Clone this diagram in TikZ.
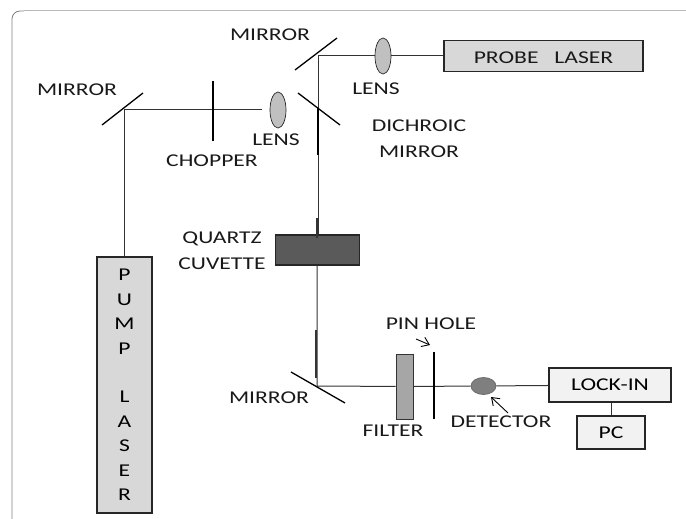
\documentclass[tikz,border=0pt]{standalone}
\usepackage{fontspec}
\setmainfont[FakeStretch=1.31]{Carlito}
\usetikzlibrary{arrows.meta,shapes.geometric}
\definecolor{lensgray}{RGB}{192,192,192}
\definecolor{lasergray}{RGB}{216,216,216}
\definecolor{cuvettegray}{RGB}{90,90,90}
\definecolor{filtergray}{RGB}{166,166,166}
\definecolor{detectorgray}{RGB}{127,127,127}
\definecolor{boxgray}{RGB}{242,242,242}
\tikzset{
  lbl/.style={font=\fontsize{18}{26}\selectfont,inner sep=0pt,align=center,text=black!90},
  devicebox/.style={draw=black!85,line width=1.3pt,inner sep=0pt,font=\fontsize{18}{26}\selectfont},
  lensshape/.style={ellipse,draw=black!85,fill=lensgray,line width=0.7pt,minimum width=16pt,minimum height=36pt,inner sep=0pt},
  mirrorline/.style={line width=1.3pt,black},
  beam/.style={line width=1pt,black!80},
  stopline/.style={line width=2.6pt,black},
  pointer/.style={-{Straight Barb[length=7pt,width=10pt]},line width=0.9pt,black}
}
\begin{document}
\begin{tikzpicture}[x=1pt,y=-1pt]
 \useasboundingbox (0,0) rectangle (686,519);
 % frame
 \draw[gray!55,line width=1pt] (686,11)--(24,11);
 \draw[gray,line width=0.8pt,rounded corners=8pt] (24,11)--(12,11)--(12,519);
 % corners of the beam
 \coordinate (pumpcorner) at (124,110);
 \coordinate (topcorner) at (318,56);
 \coordinate (lowcorner) at (317,386);
 \coordinate (lensgap) at (262,110);
 % parts
 \node[devicebox,fill=lasergray,minimum width=199pt,minimum height=31pt] (probelaser) at (543.5,56) {};
 \node[lbl] (probelabel) at (543.5,58) {PROBE\ \ \ LASER};
 \node[lensshape] (lensprobe) at (383,56) {};
 \node[lensshape] (lenspump) at (278,110) {};
 \node[devicebox,fill=lasergray,minimum width=55pt,minimum height=256pt,align=center,
   font=\fontsize{18}{24.4}\selectfont] (pumplaser) at (124.5,385)
   {P\\U\\M\\P\\[24.4pt]L\\A\\S\\E\\R};
 \node[devicebox,fill=cuvettegray,minimum width=84pt,minimum height=30pt] (cuvette) at (317.5,250) {};
 \node[draw=black!80,line width=0.9pt,fill=filtergray,minimum width=17pt,minimum height=65pt,inner sep=0pt] (filter) at (404.5,386.5) {};
 \node[ellipse,draw=black!60,line width=0.7pt,fill=detectorgray,minimum width=25pt,minimum height=17pt,inner sep=0pt] (detector) at (483.5,386) {};
 \node[devicebox,fill=boxgray,minimum width=122pt,minimum height=34pt] (lockin) at (610,385) {LOCK-IN};
 \node[devicebox,fill=boxgray,minimum width=68pt,minimum height=33pt] (pc) at (611,432.5) {PC};
 % beams
 \draw[beam] (probelaser)--(lensprobe)--(topcorner)--(cuvette.north-|topcorner);
 \draw[beam] (pumplaser.north-|pumpcorner)--(pumpcorner)--(lensgap);
 \draw[beam] (cuvette.south-|lowcorner)--(lowcorner)--(filter)--(detector)--(lockin);
 \draw[beam] (lockin.south-|pc.north)--(pc.north);
 % mirrors and stops
 \draw[mirrorline] (295,70)--(337,38);
 \draw[mirrorline] (102,125)--(143,93);
 \draw[mirrorline] (298,93)--(340,125);
 \draw[mirrorline] (291,372)--(345,403);
 \draw[line width=1.8pt] (318,108)--(318,155);
 \draw[line width=1.5pt,black!80] (317,218)--(317,238);
 \draw[line width=1.2pt,black!80] (316,330)--(316,378);
 \draw[stopline] (213,81)--(213,141);
 \draw[stopline] (434,352)--(434,419);
 % labels
 \node[lbl] (mirrortop) at (270,35) {MIRROR};
 \node[lbl] (mirrorpump) at (77,90) {MIRROR};
 \node[lbl] (mirrorlow) at (269,398) {MIRROR};
 \node[lbl] (lenstop) at (376,89) {LENS};
 \node[lbl] (lensleft) at (276,140) {LENS};
 \node[lbl] (chopper) at (212,161) {CHOPPER};
 \node[lbl] (dichroic) at (419,138.5) {DICHROIC\\MIRROR};
 \node[lbl] (quartz) at (222,251) {QUARTZ\\CUVETTE};
 \node[lbl] (pinhole) at (431,324) {PIN HOLE};
 \node[lbl] (filterlabel) at (393,431) {FILTER};
 \node[lbl] (detectorlabel) at (501,422) {DETECTOR};
 % pointers
 \coordinate (pinfrom) at (416,339);
 \coordinate (pinto) at (430,345);
 \coordinate (detfrom) at (508,413);
 \coordinate (detto) at (491,397);
 \draw[pointer] (pinfrom)--(pinto);
 \draw[pointer] (detfrom)--(detto);
\end{tikzpicture}
\end{document}
